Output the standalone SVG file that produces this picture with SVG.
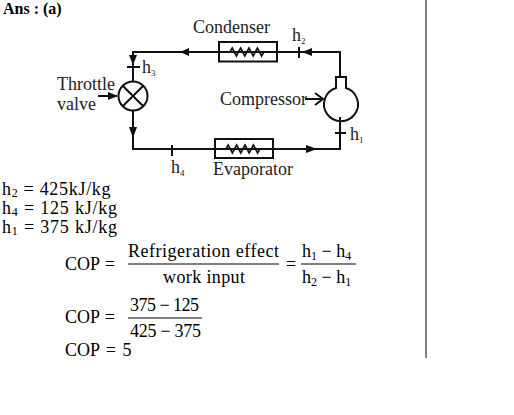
<svg xmlns="http://www.w3.org/2000/svg" width="514" height="415" viewBox="0 0 514 415">
<style>
text{font-family:"Liberation Serif","Times New Roman",serif;fill:#000;font-size:18px}
.d{fill:#222;font-size:18px}
.s{font-size:9px}
.u{font-size:12px}
.l{stroke:#111;stroke-width:2;fill:none}
.h{fill:#111;stroke:none}
</style>
<defs>
<path id="res" d="M0 0h11l2.200-4 4.200 8 4.200-8 4.200 8 4.200-8 4.200 8 4.200-8 4.200 8 2.200-4h12" fill="none" stroke="#111" stroke-width="1.700"/>
</defs>
<rect width="514" height="415" fill="#fff"/>
<line x1="426" y1="0" x2="426" y2="358" stroke="#000" stroke-width="1"/>
<text x="3" y="14" font-weight="bold" style="font-size:16px">Ans : (a)</text>
<g id="connectors">
<path class="l" d="M340 77V52H133V81M133 111V149H340V117"/>
<path class="h" d="M180 52l9-4v8zM302 52l10-4v8zM133 65l-4-10h8zM133 138l-4-11h8zM317 149l-11-4v8z"/>
<path class="l" d="M299 47V58M127 67H140M172 145V156M335 133H346"/>
<path class="l" d="M98 96H117" stroke-width="1.500"/><path class="h" d="M118 96l-10-4v8z"/>
<path class="l" d="M305 99H323M315 93L323 99L315 105"/>
</g>
<g id="condenser">
<rect class="l" x="219" y="42" width="58" height="19.500" fill="#fff"/>
<use href="#res" x="219" y="52"/>
<text class="d" x="193" y="33">Condenser</text>
</g>
<g id="evaporator">
<rect class="l" x="215" y="139" width="58" height="19" fill="#fff"/>
<use href="#res" x="215" y="149"/>
<text class="d" x="213" y="175">Evaporator</text>
</g>
<g id="throttle-valve">
<circle class="l" cx="133" cy="96" r="14.500" fill="#fff"/>
<path class="l" d="M122.700 85.700L143.300 106.300M143.300 85.700L122.700 106.300"/>
<text class="d" x="57" y="90">Throttle</text>
<text class="d" x="57" y="110">valve</text>
</g>
<g id="compressor">
<path class="l" d="M336 88V77H346V88A17 17 0 1 1 336 88Z" fill="#fff"/>
<text class="d" x="220" y="105">Compressor</text>
</g>
<g id="state-labels">
<text class="d" x="292" y="41">h<tspan class="s" dy="3">2</tspan></text>
<text class="d" x="142" y="73">h<tspan class="s" dy="3">3</tspan></text>
<text class="d" x="350" y="140">h<tspan class="s" dy="3">1</tspan></text>
<text class="d" x="171" y="173">h<tspan class="s" dy="3">4</tspan></text>
</g>
<g id="solution">
<text x="2" y="195" letter-spacing="0.700">h<tspan class="u" dy="2">2</tspan><tspan dy="-2"> = 425kJ/kg</tspan></text>
<text x="2" y="214" letter-spacing="0.800">h<tspan class="u" dy="2">4</tspan><tspan dy="-2"> = 125 kJ/kg</tspan></text>
<text x="2" y="233" letter-spacing="0.800">h<tspan class="u" dy="2">1</tspan><tspan dy="-2"> = 375 kJ/kg</tspan></text>
<text x="65" y="270" word-spacing="1">COP =</text>
<text x="128" y="257" textLength="151" lengthAdjust="spacing">Refrigeration effect</text>
<line x1="128" y1="264" x2="279" y2="264" stroke="#000"/>
<text x="163" y="283" textLength="82" lengthAdjust="spacing">work input</text>
<text x="286" y="270">=</text>
<text x="302" y="257">h<tspan class="u" dy="3">1</tspan><tspan dy="-3"> − h</tspan><tspan class="u" dy="3">4</tspan></text>
<line x1="301" y1="264" x2="356" y2="264" stroke="#000"/>
<text x="302" y="283">h<tspan class="u" dy="3">2</tspan><tspan dy="-3"> − h</tspan><tspan class="u" dy="3">1</tspan></text>
<text x="65" y="323" word-spacing="1">COP =</text>
<text x="130" y="311" textLength="69" lengthAdjust="spacing">375 − 125</text>
<line x1="128" y1="318" x2="202" y2="318" stroke="#000"/>
<text x="130" y="337" textLength="71" lengthAdjust="spacing">425 − 375</text>
<text x="65" y="356" word-spacing="2">COP = 5</text>
</g>
</svg>
